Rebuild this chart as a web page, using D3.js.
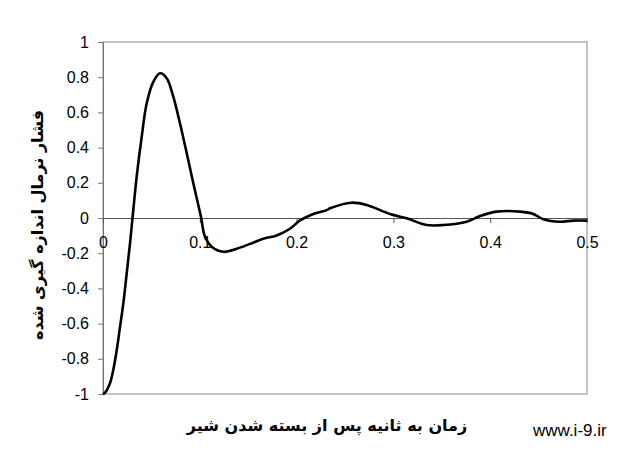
<!DOCTYPE html>
<html><head><meta charset="utf-8">
<script src="https://cdn.jsdelivr.net/npm/d3@7"></script>
<style>body{margin:0;background:#fff}svg{display:block}</style>
</head><body>
<svg id="c" width="629" height="450"></svg>
<script>
const times = [0,0.002,0.0072,0.0106,0.0142,0.0176,0.021,0.0245,0.0279,0.0303,0.0348,0.040,0.0451,0.052,0.0589,0.0658,0.0726,0.0795,0.0865,0.0933,0.1012,0.1054,0.1123,0.1243,0.1381,0.1519,0.1656,0.1794,0.1932,0.2035,0.2173,0.2311,0.2345,0.2569,0.2724,0.2965,0.3137,0.3344,0.3516,0.3757,0.3895,0.4067,0.4308,0.4445,0.4549,0.4721,0.4858,0.5];
const pressure = [-1,-0.993,-0.939,-0.864,-0.75,-0.618,-0.485,-0.314,-0.144,-0.011,0.235,0.462,0.651,0.774,0.822,0.794,0.689,0.538,0.368,0.197,0.007,-0.107,-0.163,-0.192,-0.175,-0.147,-0.118,-0.099,-0.061,-0.014,0.023,0.045,0.055,0.087,0.074,0.023,-0.002,-0.040,-0.040,-0.021,0.011,0.036,0.036,0.023,-0.007,-0.021,-0.015,-0.015];
const xTicks = [0,0.1,0.2,0.3,0.4,0.5];
const yTicks = [-1,-0.8,-0.6,-0.4,-0.2,0,0.2,0.4,0.6,0.8,1];
const xTitle = "زمان به ثانیه پس از بسته شدن شیر";
const yTitle = "فشار نرمال اندازه گیری شده";
const watermark = "www.i-9.ir";

const svg = d3.select("#c");
const x = d3.scaleLinear().domain([0,0.5]).range([103,587]);
const y = d3.scaleLinear().domain([-1,1]).range([394,42]);
const tickFont = "Liberation Sans, Arial, sans-serif";
const fmt = d => String(+d.toFixed(1));

// plot border
svg.append("rect").attr("x",x(0)).attr("y",y(1)).attr("width",x(0.5)-x(0)).attr("height",y(-1)-y(1))
  .attr("fill","none").attr("stroke","#888").attr("stroke-width",1);

// y axis
const ya = svg.append("g").attr("transform",`translate(${x(0)},0)`)
  .call(d3.axisLeft(y).tickValues(yTicks).tickSize(5).tickPadding(9).tickFormat(fmt));
ya.select(".domain").attr("stroke","#777");
ya.selectAll(".tick line").attr("stroke","#777");
ya.selectAll("text").attr("font-family",tickFont).attr("font-size",16).attr("fill","#000");

// x axis at zero
const xa = svg.append("g").attr("transform",`translate(0,${y(0)})`)
  .call(d3.axisBottom(x).tickValues(xTicks).tickSize(5).tickPadding(14).tickFormat(fmt));
xa.select(".domain").attr("stroke","#555");
xa.selectAll(".tick line").attr("stroke","#555");
xa.selectAll("text").attr("font-family",tickFont).attr("font-size",16).attr("fill","#000");

// curve
const line = d3.line().x((d,i)=>x(times[i])).y(d=>y(d)).curve(d3.curveCatmullRom.alpha(0.5));
svg.append("path").datum(pressure).attr("d",line).attr("fill","none").attr("stroke","#000").attr("stroke-width",2.6);

// titles
svg.append("text").attr("x",327).attr("y",431).attr("text-anchor","middle").attr("direction","rtl")
  .attr("font-family","DejaVu Sans, sans-serif").attr("font-weight","bold").attr("font-size",16).text(xTitle);
svg.append("text").attr("transform","translate(43,225) rotate(-90)").attr("text-anchor","middle").attr("direction","rtl")
  .attr("font-family","DejaVu Sans, sans-serif").attr("font-weight","bold").attr("font-size",16).text(yTitle);
svg.append("text").attr("x",533).attr("y",436).attr("font-family",tickFont).attr("font-size",17).text(watermark);
</script>
</body></html>
